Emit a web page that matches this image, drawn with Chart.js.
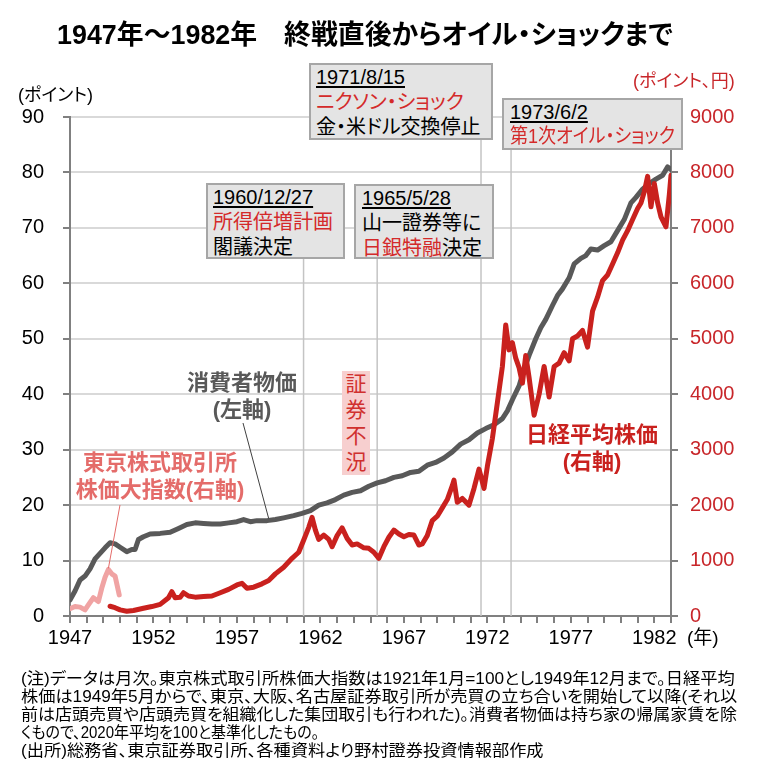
<!DOCTYPE html>
<html lang="ja">
<head>
<meta charset="utf-8">
<title>1947年～1982年 終戦直後からオイル・ショックまで</title>
<script src="https://cdn.jsdelivr.net/npm/chart.js@4.4.1/dist/chart.umd.min.js"></script>
<style>
  html, body { margin: 0; padding: 0; background: #fff; }
  #wrap { position: relative; width: 757px; height: 773px; overflow: hidden; }
  #chart { position: absolute; left: 0; top: 0; }
  .t { position: absolute; white-space: nowrap; font-family: "Liberation Sans", "Noto Sans CJK JP", sans-serif;
       font-feature-settings: "palt"; }
  .fit { transform-origin: left center; }
  .box { position: absolute; box-sizing: border-box; border: 2px solid #a6a6a6; background: #e4e4e4;
         font-family: "Liberation Sans", "Noto Sans CJK JP", sans-serif; font-feature-settings: "palt";
         font-size: 20px; line-height: 25px; color: #000; white-space: nowrap; }
  .box .d { text-decoration: underline; text-decoration-thickness: 1.5px; text-underline-offset: 2px; }
  .box .fit { display: inline-block; }
  .red { color: #d42a2a; }
  .lbl { position: absolute; text-align: center; font-weight: bold; font-size: 22px; line-height: 27px;
         font-family: "Liberation Sans", "Noto Sans CJK JP", sans-serif; font-feature-settings: "palt"; white-space: nowrap; }
</style>
</head>
<body>
<div id="wrap">
  <canvas id="chart" width="757" height="773"></canvas>

  <div class="t fit" data-w="616" style="left:57px;top:17px;font-size:27px;font-weight:bold;line-height:36px;">1947年～1982年　終戦直後からオイル・ショックまで</div>

  <div class="t" style="left:18px;top:84px;font-size:18px;line-height:22px;">(ポイント)</div>
  <div class="t" style="left:633px;top:70px;font-size:18px;line-height:22px;color:#c8262a;">(ポイント、円)</div>
  <div class="t" style="left:687px;top:626px;font-size:19px;line-height:24px;">(年)</div>

  <div class="box" style="left:309px;top:63px;width:184px;height:77px;padding-left:5px;">
    <div class="d">1971/8/15</div>
    <div class="red">ニクソン・ショック</div>
    <div>金・米ドル交換停止</div>
  </div>
  <div class="box" style="left:502px;top:98px;width:181px;height:52px;padding-left:6px;line-height:24px;">
    <div class="d">1973/6/2</div>
    <div class="red"><span class="fit" data-w="165">第1次オイル・ショック</span></div>
  </div>
  <div class="box" style="left:206px;top:183px;width:139px;height:76px;padding-left:5px;">
    <div class="d">1960/12/27</div>
    <div class="red">所得倍増計画</div>
    <div>閣議決定</div>
  </div>
  <div class="box" style="left:354px;top:184px;width:140px;height:75px;padding-left:6px;">
    <div class="d">1965/5/28</div>
    <div>山一證券等に</div>
    <div><span class="red">日銀特融</span>決定</div>
  </div>

  <div class="t" style="left:342px;top:371px;width:28px;height:104px;background:#f7cfcf;color:#d0302e;font-size:21px;line-height:26px;text-align:center;white-space:normal;">証<br>券<br>不<br>況</div>

  <div class="lbl" style="left:162px;top:369px;width:160px;color:#595959;">消費者物価<br>(左軸)</div>
  <div class="lbl" style="left:70px;top:449px;width:180px;color:#e46c6a;">東京株式取引所<br>株価大指数(右軸)</div>
  <div class="lbl" style="left:512px;top:421px;width:160px;color:#c9211e;">日経平均株価<br>(右軸)</div>

  <div class="t fit" data-w="714" style="left:21px;top:670px;font-size:16px;line-height:18px;">(注)データは月次。東京株式取引所株価大指数は1921年1月=100とし1949年12月まで。日経平均</div>
  <div class="t fit" data-w="716" style="left:21px;top:688px;font-size:16px;line-height:18px;">株価は1949年5月からで、東京、大阪、名古屋証券取引所が売買の立ち合いを開始して以降(それ以</div>
  <div class="t fit" data-w="716" style="left:21px;top:706px;font-size:16px;line-height:18px;">前は店頭売買や店頭売買を組織化した集団取引も行われた)。消費者物価は持ち家の帰属家賃を除</div>
  <div class="t fit" data-w="298" style="left:21px;top:724px;font-size:16px;line-height:18px;">くもので、2020年平均を100と基準化したもの。</div>
  <div class="t fit" data-w="523" style="left:21px;top:742px;font-size:16px;line-height:18px;">(出所)総務省、東京証券取引所、各種資料より野村證券投資情報部作成</div>
</div>

<script>
// 消費者物価 (left axis, points)
const cpiYears = [1947.0, 1947.3, 1947.6, 1947.9, 1948.2, 1948.5, 1948.8, 1949.1, 1949.4, 1949.7,
  1950.0, 1950.4, 1950.7, 1950.9, 1951.1, 1951.4, 1951.8, 1952.4, 1953.0, 1953.5,
  1954.0, 1954.5, 1955.0, 1955.5, 1956.0, 1956.5, 1957.0, 1957.4, 1957.8, 1958.2,
  1958.8, 1959.3, 1959.8, 1960.4, 1960.9, 1961.4, 1961.9, 1962.4, 1962.9, 1963.4,
  1963.9, 1964.4, 1964.9, 1965.4, 1965.9, 1966.4, 1966.9, 1967.4, 1967.9, 1968.4,
  1968.9, 1969.4, 1969.9, 1970.4, 1970.9, 1971.4, 1971.9, 1972.4, 1972.9, 1973.2,
  1973.5, 1973.9, 1974.2, 1974.5, 1974.9, 1975.2, 1975.5, 1975.9, 1976.2, 1976.5,
  1976.9, 1977.2, 1977.6, 1977.9, 1978.2, 1978.6, 1979.0, 1979.4, 1979.8, 1980.2,
  1980.6, 1980.9, 1981.3, 1981.7, 1982.1, 1982.5, 1982.8, 1983.0];
const cpiValues = [2.9, 4.5, 6.5, 7.2, 8.5, 10.3, 11.3, 12.3, 13.2, 13.0,
  12.4, 11.6, 12.0, 12.0, 13.8, 14.3, 14.8, 14.9, 15.1, 15.8,
  16.5, 16.8, 16.7, 16.6, 16.6, 16.8, 17.0, 17.4, 17.0, 17.2,
  17.2, 17.4, 17.7, 18.1, 18.5, 19.0, 20.0, 20.4, 21.0, 21.8,
  22.3, 22.6, 23.4, 24.0, 24.4, 25.0, 25.3, 25.9, 26.1, 27.2,
  27.7, 28.5, 29.6, 31.0, 31.8, 33.0, 33.8, 34.5, 35.6, 37.0,
  39.0, 41.5, 44.5, 47.0, 50.0, 52.0, 53.5, 56.0, 57.8, 59.0,
  61.0, 63.5, 64.5, 65.0, 66.2, 66.0, 66.8, 67.5, 69.5, 71.5,
  74.5, 75.5, 77.0, 78.0, 78.8, 79.5, 81.0, 80.5];

// 日経平均株価 (right axis, 円)
const nikkeiYears = [1949.4, 1949.7, 1950.0, 1950.4, 1950.8, 1951.4, 1951.9, 1952.4, 1952.9, 1953.1,
  1953.3, 1953.6, 1953.8, 1954.1, 1954.5, 1955.0, 1955.5, 1956.0, 1956.5, 1957.0,
  1957.3, 1957.6, 1958.0, 1958.5, 1958.9, 1959.3, 1959.8, 1960.3, 1960.7, 1961.0,
  1961.3, 1961.5, 1961.7, 1961.9, 1962.2, 1962.5, 1962.7, 1963.0, 1963.3, 1963.6,
  1963.9, 1964.2, 1964.6, 1964.9, 1965.2, 1965.5, 1965.8, 1966.1, 1966.4, 1966.7,
  1967.0, 1967.3, 1967.6, 1967.9, 1968.1, 1968.4, 1968.7, 1969.0, 1969.3, 1969.6,
  1969.9, 1970.0, 1970.2, 1970.5, 1970.9, 1971.2, 1971.5, 1971.8, 1972.0, 1972.3,
  1972.6, 1972.9, 1973.1, 1973.3, 1973.5, 1973.7, 1973.9, 1974.1, 1974.3, 1974.5,
  1974.8, 1975.1, 1975.4, 1975.7, 1976.0, 1976.3, 1976.6, 1976.9, 1977.1, 1977.4,
  1977.7, 1978.0, 1978.3, 1978.6, 1978.9, 1979.2, 1979.5, 1979.8, 1980.1, 1980.4,
  1980.7, 1981.0, 1981.2, 1981.4, 1981.6, 1981.8, 1982.0, 1982.2, 1982.4, 1982.7,
  1982.9, 1983.0];
const nikkeiValues = [176, 150, 110, 85, 100, 140, 170, 210, 330, 440,
  330, 340, 420, 360, 340, 350, 360, 420, 480, 560,
  590, 500, 520, 580, 640, 760, 880, 1040, 1150, 1370,
  1600, 1780, 1550, 1380, 1460, 1380, 1250, 1450, 1590, 1400,
  1280, 1300, 1230, 1220, 1150, 1040, 1250, 1420, 1550, 1480,
  1430, 1470, 1460, 1280, 1300, 1450, 1720, 1800, 1950, 2100,
  2350, 2450, 2050, 2120, 2000, 2300, 2650, 2300, 2700, 3200,
  3850, 4500, 5250, 4800, 4930, 4650, 4480, 4200, 4700, 4300,
  3620, 4000, 4500, 3950, 4500, 4560, 4750, 4600, 5000, 5050,
  5150, 4850, 5500, 5750, 6050, 6150, 6350, 6550, 6780, 6950,
  7150, 7350, 7450, 7650, 7930, 7380, 7800, 7450, 7200, 7020,
  7600, 7950];

// 東京株式取引所株価大指数 (right axis)
const tseYears = [1947.0, 1947.3, 1947.6, 1947.9, 1948.1, 1948.4, 1948.7, 1948.9, 1949.1, 1949.3, 1949.5, 1949.7, 1949.95];
const tseValues = [130, 170, 160, 110, 200, 330, 260, 500, 700, 840, 760, 720, 380];

// events: dates as decimal years
const eventDates = [1960.99, 1965.40, 1971.62, 1973.42];
const eventLabels = ['1960/12/27', '1965/5/28', '1971/8/15', '1973/6/2'];

const xTickYears = [1947, 1952, 1957, 1962, 1967, 1972, 1977, 1982];

// layout (pixels) for the overlay boxes the event lines hang from
const eventLineTop = [259, 259, 139, 150];

const toPoints = (xs, ys) => xs.map((x, i) => ({ x: x, y: ys[i] }));

const GRAY_AXIS = '#808080';
const TICK_FONT = { family: 'Liberation Sans', size: 20 };

const eventLines = {
  id: 'eventLines',
  beforeDatasetsDraw(chart) {
    const { ctx, chartArea, scales } = chart;
    ctx.save();
    ctx.strokeStyle = '#c4c4c4';
    ctx.lineWidth = 1.5;
    eventDates.forEach((d, i) => {
      const px = scales.x.getPixelForValue(d);
      ctx.beginPath();
      ctx.moveTo(px, eventLineTop[i]);
      ctx.lineTo(px, chartArea.bottom);
      ctx.stroke();
    });
    ctx.restore();
  },
  afterDatasetsDraw(chart) {
    const { ctx, scales } = chart;
    ctx.save();
    // leader from 消費者物価 label to the CPI line
    ctx.strokeStyle = '#404040';
    ctx.lineWidth = 1;
    ctx.beginPath();
    ctx.moveTo(243, 423);
    ctx.lineTo(scales.x.getPixelForValue(1958.9), scales.y.getPixelForValue(17.6));
    ctx.stroke();
    // leader from 東京株式取引所 label to the TSE line
    ctx.strokeStyle = '#e46c6a';
    ctx.beginPath();
    ctx.moveTo(120, 505);
    ctx.lineTo(scales.x.getPixelForValue(1949.3), scales.y2.getPixelForValue(860));
    ctx.stroke();
    ctx.restore();
  }
};

const lineStyle = {
  pointRadius: 0,
  borderWidth: 5,
  tension: 0,
  borderJoinStyle: 'round',
  borderCapStyle: 'round',
  fill: false,
};

new Chart(document.getElementById('chart'), {
  type: 'line',
  data: {
    datasets: [
      { label: '日経平均株価', data: toPoints(nikkeiYears, nikkeiValues), borderColor: '#c9211e', yAxisID: 'y2', ...lineStyle },
      { label: '東京株式取引所株価大指数', data: toPoints(tseYears, tseValues), borderColor: '#f0a3a3', yAxisID: 'y2', ...lineStyle },
      { label: '消費者物価', data: toPoints(cpiYears, cpiValues), borderColor: '#595959', yAxisID: 'y', ...lineStyle },
    ],
  },
  options: {
    responsive: false,
    animation: false,
    layout: { padding: { top: 117, left: 0, right: 0, bottom: 0 } },
    plugins: { legend: { display: false }, tooltip: { enabled: false } },
    scales: {
      x: {
        type: 'linear',
        min: 1947,
        max: 1983,
        afterFit: (s) => { s.height = 157; },
        ticks: {
          stepSize: 1,
          autoSkip: false,
          maxRotation: 0,
          color: '#000',
          font: TICK_FONT,
          padding: 3,
          callback: (v) => (xTickYears.includes(v) ? String(v) : ''),
        },
        grid: { drawOnChartArea: false, tickLength: 7, color: GRAY_AXIS, lineWidth: 2 },
        border: { color: GRAY_AXIS, width: 2 },
      },
      y: {
        position: 'left',
        min: 0,
        max: 90,
        afterFit: (s) => { s.width = 70; },
        ticks: { stepSize: 10, color: '#000', font: TICK_FONT, padding: 19, callback: (v) => String(v) },
        grid: { color: '#d9d9d9', lineWidth: 2, tickColor: GRAY_AXIS, tickLength: 7 },
        border: { color: GRAY_AXIS, width: 2 },
      },
      y2: {
        position: 'right',
        min: 0,
        max: 9000,
        afterFit: (s) => { s.width = 86; },
        ticks: { stepSize: 1000, color: '#c8262a', font: TICK_FONT, padding: 12, callback: (v) => String(v) },
        grid: { drawOnChartArea: false, tickLength: 7, color: GRAY_AXIS, lineWidth: 2 },
        border: { color: GRAY_AXIS, width: 2 },
      },
    },
  },
  plugins: [eventLines],
});

// squeeze texts to the widths seen in the picture
function fitWidths() {
  document.querySelectorAll('.fit[data-w]').forEach((el) => {
    el.style.transform = '';
    el.style.transform = 'scaleX(' + (Number(el.dataset.w) / el.scrollWidth) + ')';
  });
}
if (document.fonts && document.fonts.ready) document.fonts.ready.then(fitWidths);
fitWidths();
</script>
</body>
</html>
